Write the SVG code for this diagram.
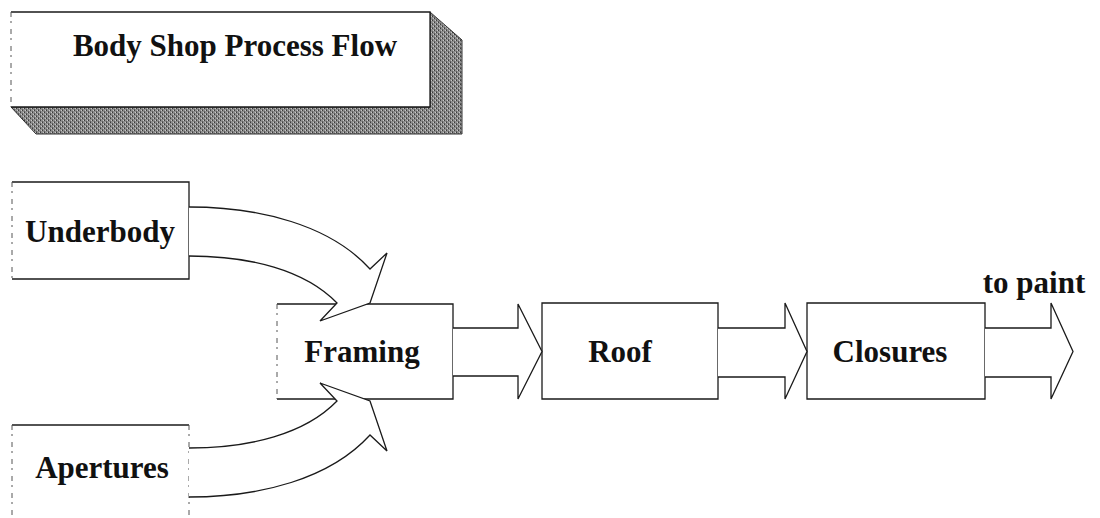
<svg xmlns="http://www.w3.org/2000/svg" width="1100" height="518" viewBox="0 0 1100 518">
  <style>
    .lbl { font-family: "Liberation Serif", "Times New Roman", serif; font-weight: bold; font-size: 31px; fill: #111; text-anchor: middle; }
    .edge { fill: none; stroke: #1a1a1a; stroke-width: 1.3; }
    .side { fill: none; stroke: #555; stroke-width: 1; stroke-dasharray: 5 4 2 6; }
    .box { fill: #fff; stroke: none; }
    .arrow { fill: #fff; stroke: #1a1a1a; stroke-width: 1.3; stroke-linejoin: miter; }
  </style>
  <defs>
    <!-- halftone grey used for the extruded shadow of the title panel -->
    <pattern id="halftone" width="4" height="4" patternUnits="userSpaceOnUse">
      <rect width="4" height="4" fill="#8e8e8e"/>
      <rect x="0" y="0" width="1" height="1" fill="#3c3c3c"/>
      <rect x="2" y="2" width="1" height="1" fill="#3c3c3c"/>
      <rect x="1" y="2" width="1" height="1" fill="#c8c8c8"/>
      <rect x="3" y="0" width="1" height="1" fill="#c8c8c8"/>
      <rect x="2" y="1" width="1" height="1" fill="#5e5e5e"/>
      <rect x="0" y="3" width="1" height="1" fill="#5e5e5e"/>
    </pattern>
  </defs>

  <rect width="1100" height="518" fill="#fff"/>

  <!-- title panel -->
  <g id="title">
    <polygon points="11,107 430,107 430,12 462,40 462,134 36,134" fill="url(#halftone)" stroke="#333" stroke-width="1"/>
    <rect class="box" x="11" y="12" width="419" height="95"/>
    <path class="edge" d="M11,12 H430 V107 H11"/>
    <path class="side" d="M11,12 V107"/>
    <text class="lbl" x="235" y="56">Body Shop Process Flow</text>
  </g>

  <!-- process stations -->
  <g id="underbody">
    <rect class="box" x="12" y="182" width="177" height="97"/>
    <path class="edge" d="M12,182 H189 V279 H12"/>
    <path class="side" d="M12,182 V279"/>
    <text class="lbl" x="100" y="242">Underbody</text>
  </g>

  <g id="apertures">
    <rect class="box" x="12" y="425" width="177" height="100"/>
    <path class="edge" d="M12,425 H189"/>
    <path class="side" d="M189,425 V525"/>
    <path class="side" d="M12,425 V525"/>
    <text class="lbl" x="102" y="478">Apertures</text>
  </g>

  <g id="framing">
    <rect class="box" x="277" y="304" width="176" height="95"/>
    <path class="edge" d="M277,304 H453 V399 H277"/>
    <path class="side" d="M277,304 V399"/>
    <text class="lbl" x="362" y="362">Framing</text>
  </g>

  <g id="roof">
    <rect class="box" x="542" y="303" width="176" height="96"/>
    <path class="edge" d="M542,303 H718 V399 H542 Z"/>
    <text class="lbl" x="620" y="362">Roof</text>
  </g>

  <g id="closures">
    <rect class="box" x="807" y="303" width="178" height="96"/>
    <path class="edge" d="M807,303 H985 V399 H807 Z"/>
    <text class="lbl" x="890" y="362">Closures</text>
  </g>

  <g id="to-paint">
    <text class="lbl" x="1034" y="293">to paint</text>
  </g>

  <!-- block arrows between stations -->
  <g id="connectors">
    <path class="arrow" d="M189,207 C260,207 330,225 370,269 L387,253 L370,303 L320,321 L337,303 C305,270 250,256 189,256"/>
    <path class="arrow" d="M189,497 C260,497 330,479 370,435 L387,451 L370,401 L320,383 L337,401 C305,434 250,448 189,448"/>
    <path class="arrow" d="M453,328 H518 V304 L542,351.5 L518,399 V376 H453"/>
    <path class="arrow" d="M718,328 H785 V303 L807,351.5 L785,399 V377 H718"/>
    <path class="arrow" d="M985,328 H1051 V303 L1073,351.5 L1051,399 V377 H985"/>
  </g>
</svg>
